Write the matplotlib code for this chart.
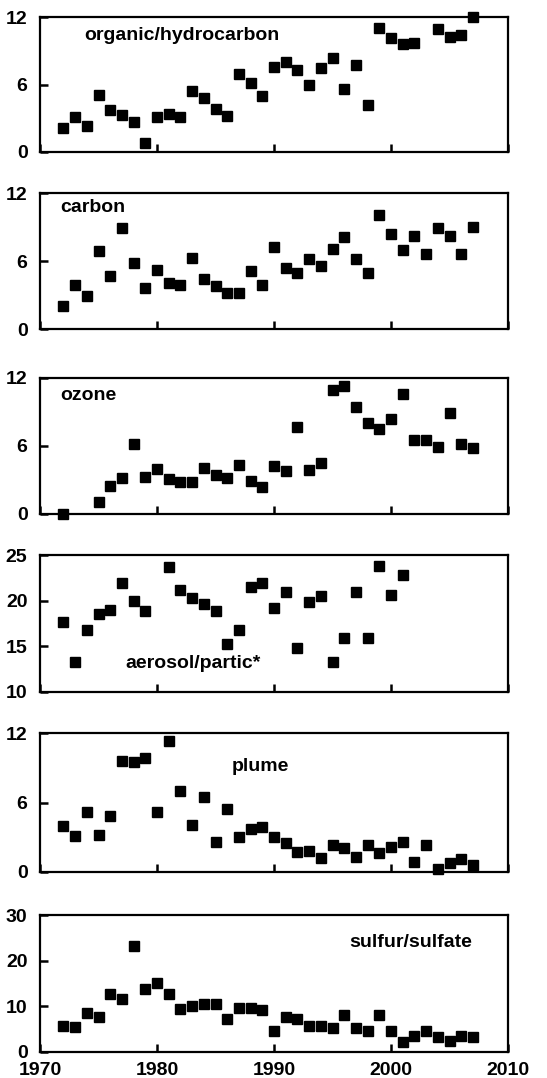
import numpy as np
import matplotlib.pyplot as plt

plt.rcParams['font.family'] = ['Liberation Sans', 'DejaVu Sans']
plt.rcParams['font.weight'] = 'bold'

years = np.arange(1972, 2008)

# values, np.nan where no point is drawn
organic = [2.1, 3.1, 2.3, 5.1, 3.7, 3.3, 2.7, 0.8, 3.1, 3.4, 3.1, 5.4, 4.8, 3.8, 3.2,
           6.9, 6.1, 5.0, 7.6, 8.0, 7.3, 6.0, 7.5, 8.4, 5.6, 7.7, 4.2, 11.0, 10.1, 9.6,
           9.7, np.nan, 10.9, 10.2, 10.4, 12.0]
carbon = [2.0, 3.9, 2.9, 6.9, 4.7, 8.9, 5.8, 3.6, 5.2, 4.1, 3.9, 6.3, 4.4, 3.8, 3.2,
          3.2, 5.1, 3.9, 7.2, 5.4, 4.9, 6.2, 5.6, 7.1, 8.1, 6.2, 4.9, 10.1, 8.4, 7.0,
          8.2, 6.6, 8.9, 8.2, 6.6, 9.0]
ozone = [0.0, np.nan, np.nan, 1.1, 2.5, 3.2, 6.2, 3.3, 4.0, 3.1, 2.8, 2.8, 4.1, 3.4, 3.2,
         4.3, 2.9, 2.4, 4.2, 3.8, 7.7, 3.9, 4.5, 10.9, 11.3, 9.4, 8.0, 7.5, 8.4, 10.6,
         6.5, 6.5, 5.9, 8.9, 6.2, 5.8]
aerosol = [17.7, 13.3, 16.8, 18.5, 19.0, 21.9, 20.0, 18.9, np.nan, 23.7, 21.2, 20.3, 19.6,
           18.9, 15.3, 16.8, 21.5, 21.9, 19.2, 20.9, 14.8, 19.8, 20.5, 13.3, 15.9, 20.9,
           15.9, 23.8, 20.6, 22.8, np.nan, np.nan, np.nan, np.nan, np.nan, np.nan]
plume = [4.0, 3.1, 5.2, 3.2, 4.8, 9.6, 9.5, 9.8, 5.2, 11.3, 7.0, 4.1, 6.5, 2.6, 5.4,
         3.0, 3.7, 3.9, 3.0, 2.5, 1.7, 1.8, 1.2, 2.3, 2.1, 1.3, 2.3, 1.6, 2.2, 2.6,
         0.9, 2.3, 0.3, 0.8, 1.1, 0.6]
sulfur = [5.8, 5.4, 8.6, 7.6, 12.7, 11.7, 23.3, 13.9, 15.2, 12.7, 9.4, 10.0, 10.6, 10.6,
          7.3, 9.6, 9.6, 9.2, 4.5, 7.7, 7.3, 5.6, 5.6, 5.2, 8.0, 5.2, 4.5, 8.2, 4.7, 2.2,
          3.5, 4.5, 3.2, 2.3, 3.4, 3.2]

series = [organic, carbon, ozone, aerosol, plume, sulfur]
labels = ['organic/hydrocarbon', 'carbon', 'ozone', 'aerosol/partic*', 'plume', 'sulfur/sulfate']
ylims = [(0, 12), (0, 12), (0, 12), (10, 25), (0, 12), (0, 30)]
yticks = [[0, 6, 12], [0, 6, 12], [0, 6, 12], [10, 15, 20, 25], [0, 6, 12], [0, 10, 20, 30]]
label_pos = [(1973.8, 10.4), (1971.7, 10.7), (1971.7, 10.5), (1977.3, 13.15),
             (1986.4, 9.1), (1996.4, 24.0)]

# panel extents in pixels (top, bottom) of a 547x1078 figure
W, H = 547, 1078
panels = [(17, 152), (193, 329), (378, 514), (555, 692), (733, 872), (915, 1052)]
left, right = 40, 508

fig = plt.figure(figsize=(W / 100, H / 100), dpi=100)

for i, (vals, lab) in enumerate(zip(series, labels)):
    top, bot = panels[i]
    ax = fig.add_axes([left / W, 1 - bot / H, (right - left) / W, (bot - top) / H])
    ax.plot(years, vals, 's', color='black', ms=7, clip_on=False)
    ax.set_xlim(1970, 2010)
    ax.set_ylim(*ylims[i])
    ax.set_xticks([1970, 1980, 1990, 2000, 2010])
    ax.set_yticks(yticks[i])
    ax.tick_params(direction='in', length=6, width=1.8, labelsize=14)
    ax.tick_params(axis='y', pad=9)
    ax.tick_params(axis='x', pad=7)
    if i < 5:
        ax.tick_params(axis='x', labelbottom=False)
    for s in ax.spines.values():
        s.set_linewidth(1.6)
    ax.text(label_pos[i][0], label_pos[i][1], lab, fontsize=14, fontweight='bold',
            va='center', ha='left')

fig.savefig('out.png', dpi=100)
